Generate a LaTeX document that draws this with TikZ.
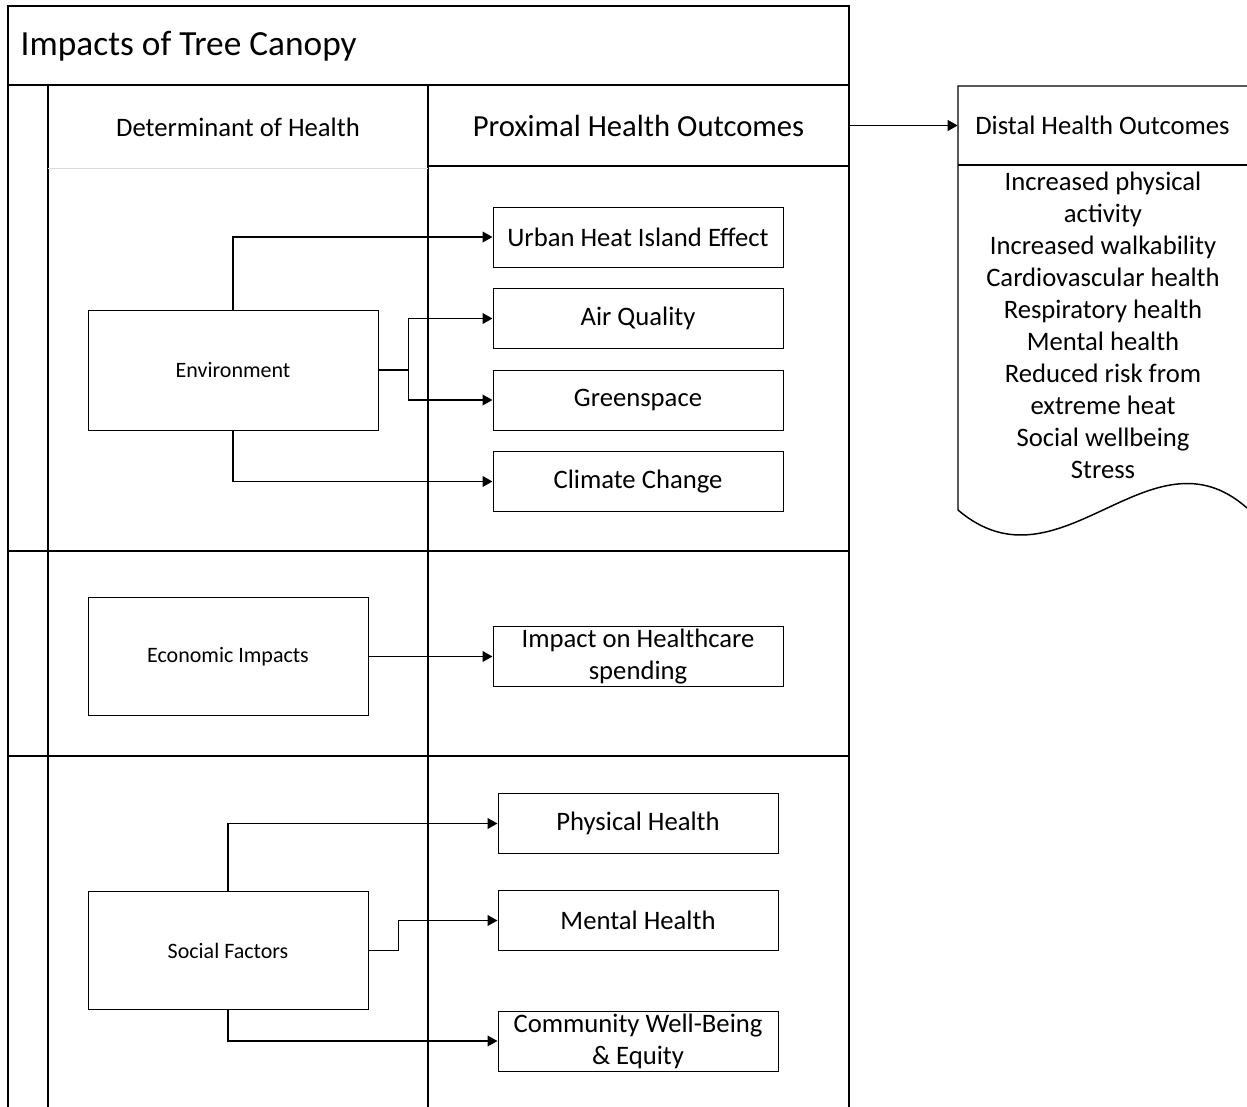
\documentclass[tikz,border=0pt]{standalone}
\usepackage{fontspec}
\setmainfont{Carlito}
\usepackage{tikz}
\usetikzlibrary{%
  positioning,%
  calc,%
  arrows.meta%
}
\newcommand{\fsz}[1]{\fontsize{#1}{24}\selectfont}
\tikzset{
  lane/.style={line width=1.1pt},
  outbox/.style={draw, line width=0.75pt, minimum width=217.5pt, minimum height=45pt, align=center, inner sep=0pt, font=\fsz{20}},
  outboxs/.style={outbox, minimum width=210pt},
  detbox/.style={draw, line width=0.75pt, minimum width=210pt, minimum height=89pt, inner sep=0pt, font=\fsz{16.5}},
  link/.style={line width=1.3pt, ->, >={Triangle[length=7.5pt,width=8pt]}}
}

\begin{document}
\begin{tikzpicture}[x=0.75pt, y=-0.75pt]
\useasboundingbox (0,0) rectangle (1247,1107);

% swimlane frame
\draw[lane] (8,1110) -- (8,6) -- (849,6) -- (849,1110);
\draw[lane] (8,85) -- (849,85);
\draw[lane] (48,85) -- (48,1110);
\draw[lane] (428,85) -- (428,1110);
\draw[lane] (428,166) -- (849,166);
\draw[lane] (8,551) -- (849,551);
\draw[lane] (8,756) -- (849,756);
\draw[line width=0.75pt, black!15] (48,168) -- (428,168);

% headers
\node[anchor=west, font=\fsz{26.5}] (title) at (16,46) {Impacts of Tree Canopy};
\node[font=\fsz{20}] (det) at (238,127) {Determinant of Health};
\node[minimum width=315.75pt, minimum height=60.75pt, inner sep=0pt, font=\fsz{23}] (prox) at (638.5,125.5) {Proximal Health Outcomes};

% distal outcomes document
\draw[lane] (1247,86) -- (958,86) -- (958,510)
	.. controls (1060,597) and (1150,422) .. (1247,508);
\draw[lane] (958,165) -- (1247,165);
\node[minimum width=216.75pt, minimum height=59.25pt, inner sep=0pt, font=\fsz{20}] (distal) at (1102.5,125.5) {Distal Health Outcomes};
\node[align=center, inner sep=0pt, font=\fsz{20}, anchor=north] (distlist) at (1103,172) {Increased physical\\activity\\Increased walkability\\Cardiovascular health\\Respiratory health\\Mental health\\Reduced risk from\\extreme heat\\Social wellbeing\\Stress};

% determinants
\node[detbox, minimum width=217.5pt, minimum height=90pt] (env) at (233,370) {Environment};
\node[detbox] (econ) at (228,656.5) {Economic Impacts};
\node[detbox] (soc) at (228,950.5) {Social Factors};

% proximal outcomes
\node[outbox] (uhi) at (638,237) {Urban Heat Island Effect};
\node[outbox] (air) at (638,318.5) {Air Quality};
\node[outbox] (green) at (638,400) {Greenspace};
\node[outbox] (climate) at (638,481.5) {Climate Change};
\node[outbox] (spend) at (638,656.5) {Impact on Healthcare\\spending};
\node[outboxs] (phys) at (638,823.5) {Physical Health};
\node[outboxs] (ment) at (638,920.5) {Mental Health};
\node[outboxs] (comm) at (638,1041) {Community Well-Being\\\& Equity};

\draw[link] (env.north) |- (uhi.west);
\draw[link] (env.east) -- ++(30,0) |- (air.west);
\draw[link] (env.east) -- ++(30,0) |- (green.west);
\draw[link] (env.south) |- (climate.west);
\draw[link] (soc.north) |- (phys.west);
\draw[link] (soc.east) -- ++(30,0) |- (ment.west);
\draw[link] (soc.south) |- (comm.west);
\draw[link]
	(prox) edge (distal)
	(econ) edge (spend)
;
\end{tikzpicture}
\end{document}
